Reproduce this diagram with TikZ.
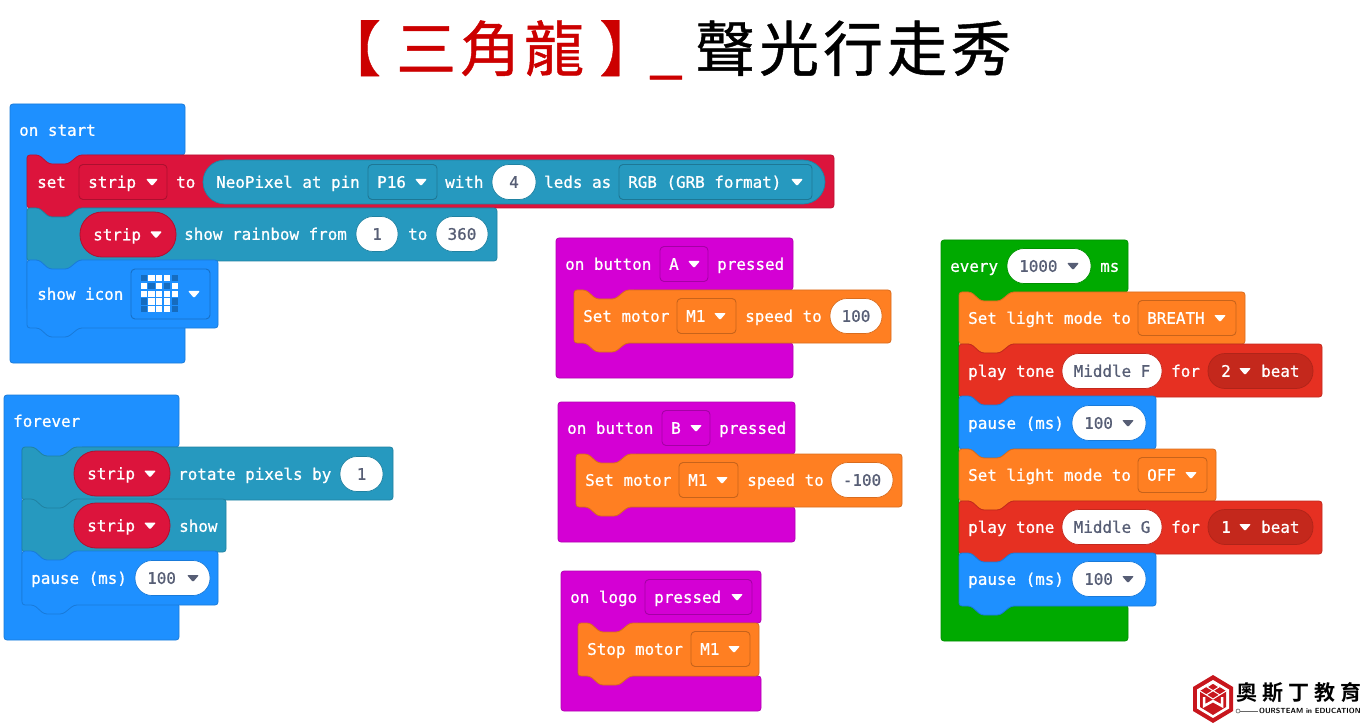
\documentclass[tikz,border=0pt]{standalone}
\usepackage{fontspec}
\newfontfamily\monof[FakeBold=0.8]{DejaVu Sans Mono}
\newfontfamily\cjkf[FakeBold=0.7]{Noto Sans CJK TC}
\newfontfamily\cjkb[BoldFont={Noto Sans CJK TC Bold}]{Noto Sans CJK TC}
\usetikzlibrary{calc}
\definecolor{cblue}{HTML}{1E90FF}
\definecolor{ccrim}{HTML}{DC143C}
\definecolor{cteal}{HTML}{2699BF}
\definecolor{corange}{HTML}{FF7F22}
\definecolor{ctone}{HTML}{E63022}
\definecolor{cdtone}{HTML}{C4281C}
\definecolor{cgreen}{HTML}{00AA00}
\definecolor{cmag}{HTML}{D400D4}
\definecolor{cval}{HTML}{575E75}
\definecolor{clogo}{HTML}{C8161D}
\newcounter{nn}
\tikzset{
  blockfill/.style={fill=#1,draw=#1!85!black,line width=0.8pt,rounded corners=3pt},
  fieldbox/.style={fill=#1,draw=#1!78!black,line width=0.9pt,rounded corners=4pt},
  pillbox/.style={fill=white,draw=#1!85!black,line width=0.7pt,rounded corners=17pt},
  lbltext/.style={inner sep=0pt,text=white,font=\monof\fontsize{15.9}{18}\selectfont},
  valtext/.style={inner sep=0pt,text=cval,font=\monof\fontsize{15.9}{18}\selectfont},
  titlered/.style={inner sep=0pt,anchor=base west,text=red!80!black,font=\cjkf\fontsize{60}{70}\selectfont},
  titleblk/.style={inner sep=0pt,anchor=base west,text=black,font=\cjkf\fontsize{60}{70}\selectfont},
}
% hat block: x0 x1 y0 y1 (header bottom) y2 (footer top) y3 innerx colour
\newcommand{\hatblk}[8]{\path[blockfill=#8] (#1,#3) -- (#2,#3) -- (#2,#4) -- (#7,#4) -- (#7,#5) -- (#2,#5) -- (#2,#6) -- (#1,#6) -- cycle;
  \fill[#8] (#7,#4-2) rectangle (#7+60,#4+11);}
% stack block: x0 x1 y0 y1 colour
\newcommand{\blk}[5]{\path[blockfill=#5] (#1,#3) -- (#1+12,#3) -- (#1+22,#3+9) -- (#1+41,#3+9) -- (#1+52,#3) -- (#2,#3) -- (#2,#4) -- (#1+52,#4) -- (#1+41,#4+9) -- (#1+22,#4+9) -- (#1+12,#4) -- (#1,#4) -- cycle;}
% text helpers
\newcommand{\lbl}[3]{\stepcounter{nn}\node[lbltext,anchor=base west] (n\thenn) at (#1,#2+5.8) {#3};}
\newcommand{\vlbl}[3]{\stepcounter{nn}\node[valtext,anchor=base west] (n\thenn) at (#1,#2+5.8) {#3};}
\newcommand{\cvlbl}[3]{\stepcounter{nn}\node[valtext,anchor=base] (n\thenn) at (#1,#2+5.8) {#3};}
\newcommand{\tri}[3]{\fill[#3,rounded corners=1pt] (#1-6,#2-3) -- (#1+6,#2-3) -- (#1,#2+4) -- cycle;}
% field: x0 x1 yc colour
\newcommand{\fld}[4]{\path[fieldbox=#4] (#1,#3-17.5) rectangle (#2,#3+17.5);}
% pill: x0 x1 yc colour
\newcommand{\pil}[4]{\path[pillbox=#4] (#1,#3-17.5) rectangle (#2,#3+17.5);}
% crimson strip pill
\newcommand{\strippil}[3]{\path[fill=ccrim,draw=ccrim!80!black,line width=0.8pt,rounded corners=22pt] (#1,#2-22.5) rectangle (#1+96,#2+22.5);
  \lbl{#1+13}{#2}{strip}\tri{#1+76}{#2}{white}}
\begin{document}
\begin{tikzpicture}[x=1pt,y=-1pt]
\useasboundingbox (0,0) rectangle (1365,727);
\fill[white] (0,0) rectangle (1365,727);
% title
\node[titlered] (titleopen) at (321,71) {【};
\node[titlered] (titlered) at (396,71) {三\kern4pt 角\kern4pt 龍};
\node[titlered] (titleclose) at (599,71) {】};
\node[titlered] (titlebar) at (649,71) {\_};
\node[titleblk] (titleblack) at (695,71) {聲\kern4pt 光\kern4pt 行\kern4pt 走\kern4pt 秀};

% ===== on start =====
\hatblk{10}{185}{104}{155}{311}{363}{27}{cblue}
\lbl{19}{130}{on start}
\blk{27}{834}{155}{208}{ccrim}
\lbl{37}{182}{set}
\fld{79}{167}{182}{ccrim}\lbl{88}{182}{strip}\tri{152}{182}{white}
\lbl{176}{182}{to}
\path[fill=cteal,draw=cteal!85!black,line width=0.7pt,rounded corners=22pt] (203,160) rectangle (825,204);
\lbl{216}{182}{NeoPixel at pin}
\fld{368}{437}{182}{cteal}\lbl{377}{182}{P16}\tri{421}{182}{white}
\lbl{445}{182}{with}
\pil{492}{536}{182}{cteal}\cvlbl{514}{182}{4}
\lbl{544}{182}{leds as}
\fld{619}{812}{182}{cteal}\lbl{628}{182}{RGB (GRB format)}\tri{797}{182}{white}
\blk{27}{497}{208}{261}{cteal}
\strippil{80}{234.5}{}
\lbl{184}{234}{show rainbow from}
\pil{356}{398}{234}{cteal}\cvlbl{377}{234}{1}
\lbl{408}{234}{to}
\pil{436}{488}{234}{cteal}\cvlbl{462}{234}{360}
\blk{27}{218}{260}{328}{cblue}
\lbl{37}{294}{show icon}
\path[fieldbox=cblue] (131,269) rectangle (210,319);
\foreach \r/\c/\on in {0/0/0,0/1/1,0/2/1,0/3/1,0/4/0,1/0/1,1/1/0,1/2/1,1/3/0,1/4/1,2/0/1,2/1/1,2/2/1,2/3/1,2/4/1,3/0/0,3/1/1,3/2/1,3/3/1,3/4/0,4/0/0,4/1/1,4/2/1,4/3/1,4/4/0}{
  \ifnum\on=1\relax\fill[white]\else\fill[cblue!75!black]\fi (140.7+\c*7.7,275.3+\r*7.7) rectangle ++(6.2,6.2);
}
\tri{194}{294}{white}

% ===== forever =====
\hatblk{4}{179}{395}{447}{603}{640}{22}{cblue}
\lbl{13}{421}{forever}
\blk{22}{393}{447}{500}{cteal}
\strippil{74}{473.5}{}
\lbl{178}{474}{rotate pixels by}
\pil{340}{383}{474}{cteal}\cvlbl{361.5}{474}{1}
\blk{22}{226}{499}{552}{cteal}
\strippil{74}{525.5}{}
\lbl{179}{526}{show}
\blk{22}{218}{551}{605}{cblue}
\lbl{31}{578}{pause (ms)}
\pil{135}{210}{578}{cblue}\vlbl{147}{578}{100}\tri{193}{578}{cval}

% ===== on button A =====
\hatblk{556}{793}{238}{290}{343}{378}{574}{cmag}
\lbl{565}{264}{on button}
\fld{660}{708}{264}{cmag}\lbl{669}{264}{A}\tri{694}{264}{white}
\lbl{717}{264}{pressed}
\blk{574}{891}{290}{343}{corange}
\lbl{583}{316}{Set motor}
\fld{677}{736}{316}{corange}\lbl{686}{316}{M1}\tri{720}{316}{white}
\lbl{745}{316}{speed to}
\pil{830}{882}{316}{corange}\cvlbl{856}{316}{100}

% ===== on button B =====
\hatblk{558}{795}{402}{454}{507}{542}{576}{cmag}
\lbl{567}{428}{on button}
\fld{662}{710}{428}{cmag}\lbl{671}{428}{B}\tri{696}{428}{white}
\lbl{719}{428}{pressed}
\blk{576}{902}{454}{507}{corange}
\lbl{585}{480}{Set motor}
\fld{679}{738}{480}{corange}\lbl{688}{480}{M1}\tri{722}{480}{white}
\lbl{747}{480}{speed to}
\pil{831}{893}{480}{corange}\cvlbl{862}{480}{-100}

% ===== on logo =====
\hatblk{561}{761}{571}{623}{676}{711}{578}{cmag}
\lbl{570}{597}{on logo}
\fld{645}{752}{597}{cmag}\lbl{654}{597}{pressed}\tri{737}{597}{white}
\blk{578}{759}{623}{676}{corange}
\lbl{587}{649}{Stop motor}
\fld{691}{750}{649}{corange}\lbl{700}{649}{M1}\tri{734}{649}{white}

% ===== every =====
\hatblk{941}{1128}{240}{292}{605}{641}{959}{cgreen}
\lbl{950}{266}{every}
\pil{1007}{1091}{266}{cgreen}\vlbl{1019}{266}{1000}\tri{1073}{266}{cval}
\lbl{1100}{266}{ms}
\blk{959}{1245}{292}{344}{corange}
\lbl{968}{318}{Set light mode to}
\fld{1138}{1236}{318}{corange}\lbl{1147}{318}{BREATH}\tri{1220}{318}{white}
\blk{959}{1322}{344}{397}{ctone}
\lbl{968}{371}{play tone}
\pil{1062}{1162}{371}{ctone}\cvlbl{1112}{371}{Middle F}
\lbl{1171}{371}{for}
\path[fill=cdtone,draw=cdtone!90!black,line width=0.7pt,rounded corners=17pt] (1208,353.5) rectangle (1313,388.5);
\lbl{1221}{371}{2}\tri{1245}{371}{white}\lbl{1261}{371}{beat}
\blk{959}{1156}{396}{449}{cblue}
\lbl{968}{423}{pause (ms)}
\pil{1072}{1146}{423}{cblue}\vlbl{1084}{423}{100}\tri{1128}{423}{cval}
\blk{959}{1216}{449}{501}{corange}
\lbl{968}{475}{Set light mode to}
\fld{1138}{1207}{475}{corange}\lbl{1147}{475}{OFF}\tri{1191}{475}{white}
\blk{959}{1322}{501}{554}{ctone}
\lbl{968}{527}{play tone}
\pil{1062}{1162}{527}{ctone}\cvlbl{1112}{527}{Middle G}
\lbl{1171}{527}{for}
\path[fill=cdtone,draw=cdtone!90!black,line width=0.7pt,rounded corners=17pt] (1208,509.5) rectangle (1313,544.5);
\lbl{1221}{527}{1}\tri{1245}{527}{white}\lbl{1261}{527}{beat}
\blk{959}{1156}{553}{606}{cblue}
\lbl{968}{579}{pause (ms)}
\pil{1072}{1146}{579}{cblue}\vlbl{1084}{579}{100}\tri{1128}{579}{cval}

% ===== logo =====
\fill[clogo] (1213,675) -- (1233,687) -- (1233,711) -- (1213,723) -- (1193,711) -- (1193,687) -- cycle;
\fill[white] (1213,680) -- (1229,689.5) -- (1229,708.5) -- (1213,718) -- (1197,708.5) -- (1197,689.5) -- cycle;
\fill[clogo] (1213,683) -- (1226,691) -- (1226,707) -- (1213,715) -- (1200,707) -- (1200,691) -- cycle;
\draw[white,line width=1pt] (1200,691) -- (1213,699) -- (1226,691) (1213,683) -- (1219,687) -- (1206,695) (1213,683) -- (1207,687) -- (1220,695);
\draw[white,line width=2.5pt] (1204,697) -- (1204,706) -- (1213,701) -- (1222,706) -- (1222,697);
\node[inner sep=0pt,anchor=base west,text=black,font=\cjkb\bfseries\fontsize{21}{24}\selectfont] (logotext) at (1236,700) {奧\hspace{5pt}斯\hspace{5pt}丁\hspace{5pt}教\hspace{5pt}育};
\node[circle,draw=black!60,line width=0.6pt,inner sep=0pt,minimum size=4pt] (logodot) at (1238,711) {};
\coordinate (lineB) at (1258,711);
\draw[black!60,line width=0.6pt] (logodot) -- (lineB);
\node[inner sep=0pt,anchor=west,text=black,font=\sffamily\bfseries\fontsize{7.4}{8}\selectfont] (logosub) at (1259,711) {OURSTEAM in EDUCATION};
\end{tikzpicture}
\end{document}
